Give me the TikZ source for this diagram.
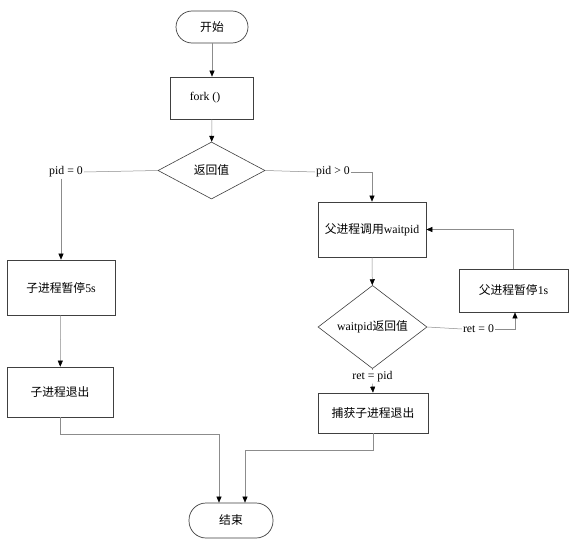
\documentclass[tikz,border=0pt]{standalone}
\usepackage{fontspec}
\setmainfont{Liberation Serif}
\newfontfamily\cjk{Noto Sans CJK SC}
\usetikzlibrary{shapes.geometric,arrows.meta,calc}
\begin{document}
\begin{tikzpicture}[x=1pt,y=-1pt,
  font=\fontsize{11.8}{14}\selectfont,
  box/.style={draw=black!75,line width=0.7pt,rectangle,inner sep=0pt,align=center},
  term/.style={draw=black!75,line width=0.7pt,rectangle,rounded corners=16pt,inner sep=0pt,align=center},
  dia/.style={draw=black!75,line width=0.6pt,diamond,inner sep=0pt,align=center},
  lab/.style={inner sep=1pt},
  conn/.style={draw=black!45,line width=0.5pt},
  arr/.style={conn,-{Triangle[length=6pt,width=5pt,color=black]}}]
\useasboundingbox[fill=white] (0,0) rectangle (575,543);
% nodes
\node[term,minimum width=72pt,minimum height=32pt] (start) at (212,27) {\cjk 开始};
\node[box,minimum width=83pt,minimum height=42pt] (fork) at (212,98) {fork ()\hspace{14pt}};
\node[dia,minimum width=107pt,minimum height=57pt] (d1) at (211.5,170.5) {\cjk 返回值};
\node[lab] (pid0) at (66,172) {pid = 0};
\node[lab] (pidg) at (333,172) {pid > 0};
\node[box,minimum width=108pt,minimum height=55pt] (child5) at (61,287.5) {{\cjk 子进程暂停}5s};
\node[box,minimum width=106pt,minimum height=50pt] (childexit) at (60,392) {\cjk 子进程退出};
\node[box,minimum width=108pt,minimum height=55pt] (wait) at (372,229.5) {{\cjk 父进程调用}waitpid};
\node[dia,minimum width=109pt,minimum height=67pt] (d2) at (372.5,327) {waitpid{\cjk 返回值}};
\node[box,minimum width=109pt,minimum height=43pt] (pause1) at (513.5,290.5) {{\cjk 父进程暂停}1s};
\node[lab] (ret0) at (478.5,329) {ret = 0};
\node[lab] (retpid) at (372.5,377) {ret = pid};
\node[box,minimum width=110pt,minimum height=40pt] (catch) at (373,413) {\cjk 捕获子进程退出};
\node[term,minimum width=84pt,minimum height=35pt,rounded corners=17pt] (end) at (231,520.5) {\cjk 结束};
\coordinate (e1) at ($(end.north)+(-12,0)$);
\coordinate (e2) at ($(end.north)+(14,0)$);
% connectors
\draw[arr] (start) -- (fork);
\draw[arr] (fork) -- (d1);
\draw[conn] (d1.west) -- (pid0.east);
\draw[arr] (pid0.south -| child5.north) -- (child5.north);
\draw[conn] (d1.east) -- (pidg.west);
\draw[arr] (pidg.east) -| (wait.north);
\draw[arr] (child5) -- (childexit);
\draw[arr] (wait) -- (d2);
\draw[conn] (d2.east) -- (ret0.west);
\draw[arr] (ret0.east) -| ($(pause1.south)+(1.5,0)$);
\draw[arr] (pause1.north) |- (wait.east);
\draw[conn] (d2.south) -- (retpid.north);
\draw[arr] (retpid.south) -- (catch.north);
\draw[arr] (childexit.south) -- ++(0,17) -| (e1);
\draw[arr] (catch.south) -- ++(0,17) -| (e2);
\end{tikzpicture}
\end{document}
